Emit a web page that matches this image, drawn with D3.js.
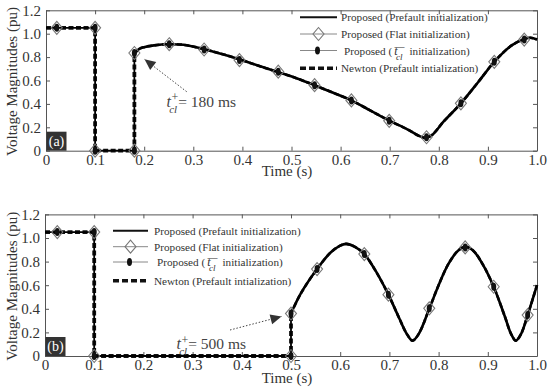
<!DOCTYPE html>
<html><head><meta charset="utf-8">
<script src="https://cdn.jsdelivr.net/npm/d3@7"></script>
<style>
html,body{margin:0;padding:0;background:#fff;}
svg, svg text{font-family:"Liberation Serif","Times New Roman",serif;}
</style></head>
<body><svg id="c" width="550" height="392"></svg>
<script>
// ---------- data ----------
const xTicks = [0,0.1,0.2,0.3,0.4,0.5,0.6,0.7,0.8,0.9,1.0];
const yTicks = [0,0.2,0.4,0.6,0.8,1.0,1.2];
const legendLabels = ["Proposed (Prefault initialization)","Proposed (Flat initialization)","Proposed (","Newton (Prefault intialization)"];

// Panel (a): fault at 0.1 s, cleared at 0.18 s
const stepA = [[0,1.05],[0.1,1.05],[0.1,0],[0.18,0],[0.18,0.83]];
const curveA = [[0.18,0.83],[0.19,0.87],[0.20,0.885],[0.22,0.90],[0.25,0.91],[0.28,0.905],[0.32,0.87],[0.36,0.825],
  [0.395,0.78],[0.43,0.73],[0.47,0.675],[0.51,0.62],[0.547,0.56],[0.585,0.495],[0.622,0.43],[0.66,0.345],
  [0.70,0.255],[0.735,0.185],[0.758,0.13],[0.772,0.11],[0.785,0.13],[0.81,0.25],[0.845,0.405],[0.88,0.585],
  [0.913,0.76],[0.95,0.905],[0.975,0.955],[0.987,0.965],[1.0,0.95]];
const markA_t = [0.022,0.1,0.1,0.18,0.18,0.251,0.322,0.394,0.473,0.547,0.622,0.699,0.775,0.845,0.913,0.974];
const markA_v = [1.05,1.05,0,0,0.835,0.91,0.865,0.775,0.675,0.56,0.43,0.255,0.115,0.405,0.76,0.95];

// Panel (b): fault at 0.1 s, cleared at 0.5 s
const stepB = [[0,1.05],[0.1,1.05],[0.1,0],[0.5,0],[0.5,0.36]];
const curveB = [[0.5,0.36],[0.52,0.53],[0.553,0.737],[0.58,0.875],[0.60,0.935],[0.612,0.95],[0.63,0.925],[0.649,0.864],
  [0.675,0.70],[0.698,0.52],[0.72,0.32],[0.735,0.19],[0.747,0.13],[0.76,0.19],[0.781,0.40],[0.80,0.60],
  [0.82,0.78],[0.84,0.895],[0.855,0.925],[0.87,0.895],[0.89,0.775],[0.912,0.587],[0.935,0.33],[0.947,0.19],
  [0.957,0.13],[0.968,0.19],[0.981,0.347],[1.0,0.60]];
const markB_t = [0.025,0.1,0.1,0.5,0.5,0.553,0.649,0.698,0.781,0.854,0.912,0.981];
const markB_v = [1.05,1.05,0,0,0.36,0.737,0.864,0.52,0.404,0.92,0.587,0.347];

// ---------- drawing ----------
const svg = d3.select("#c");
const AX = "#555", TXT = "#333";

function diamond(g, x, y){
  g.append("path").attr("d",`M${x},${y-6.5}L${x+5.5},${y}L${x},${y+6.5}L${x-5.5},${y}Z`)
   .attr("fill","none").attr("stroke","#777").attr("stroke-width",1.1);
}
function dot(g, x, y){
  g.append("ellipse").attr("cx",x).attr("cy",y).attr("rx",2.5).attr("ry",4).attr("fill","#111");
}

function panel(cfg){
  const x = d3.scaleLinear().domain([0,1]).range([cfg.x0,cfg.x1]);
  const y = d3.scaleLinear().domain([0,1.2]).range([cfg.y0,cfg.y1]);
  const g = svg.append("g");

  // axes
  const fmt = d => d===0 ? "0" : d3.format(".1f")(d);
  const bx = g.append("g").attr("transform",`translate(0,${cfg.y0})`)
    .call(d3.axisBottom(x).tickValues(xTicks).tickFormat(fmt).tickSizeInner(-4).tickSizeOuter(0).tickPadding(5));
  const tx = g.append("g").attr("transform",`translate(0,${cfg.y1})`)
    .call(d3.axisTop(x).tickValues(xTicks).tickFormat("").tickSizeInner(-4).tickSizeOuter(0));
  const ly = g.append("g").attr("transform",`translate(${cfg.x0},0)`)
    .call(d3.axisLeft(y).tickValues(yTicks).tickFormat(fmt).tickSizeInner(-4).tickSizeOuter(0).tickPadding(5));
  const ry = g.append("g").attr("transform",`translate(${cfg.x1},0)`)
    .call(d3.axisRight(y).tickValues(yTicks).tickFormat("").tickSizeInner(-4).tickSizeOuter(0));
  [bx,tx,ly,ry].forEach(a=>{
    a.attr("font-family",null).attr("font-size",null);
    a.selectAll("path,line").attr("stroke",AX);
    a.selectAll("text").attr("fill",TXT).style("font-size","15px").style("font-family","'Liberation Serif','Times New Roman',serif");
  });
  bx.selectAll(".tick text").attr("dy","0.6em");

  // axis titles
  g.append("text").attr("x",287).attr("y",cfg.xlabY).attr("text-anchor","middle")
    .style("font-size","15px").attr("fill",TXT).text("Time (s)");
  g.append("text").attr("transform",`translate(17,${(cfg.y0+cfg.y1)/2+1}) rotate(-90)`).attr("text-anchor","middle")
    .style("font-size","15px").attr("fill",TXT).text("Voltage Magnitudes (pu)");

  // lines: Newton (dashed) underneath, Proposed (solid) on top
  const lin = d3.line().x(d=>x(d[0])).y(d=>y(d[1]));
  const smooth = d3.line().x(d=>x(d[0])).y(d=>y(d[1])).curve(d3.curveCatmullRom.alpha(0.5));
  g.append("path").attr("d",lin(cfg.step)).attr("fill","none").attr("stroke","#111")
    .attr("stroke-width",3.8).attr("stroke-dasharray","5,2.5");
  g.append("path").attr("d",smooth(cfg.curve)).attr("fill","none").attr("stroke","#111")
    .attr("stroke-width",2.6).attr("stroke-dasharray","5,2.5");
  g.append("path").attr("d",lin(cfg.step)).attr("fill","none").attr("stroke","#000")
    .attr("stroke-width",1.8).attr("stroke-linejoin","round");
  g.append("path").attr("d",smooth(cfg.curve)).attr("fill","none").attr("stroke","#000")
    .attr("stroke-width",2.6).attr("stroke-linejoin","round");
  // markers
  cfg.mt.forEach((t,i)=>{ dot(g,x(t),y(cfg.mv[i])); diamond(g,x(t),y(cfg.mv[i])); });

  // panel tag
  g.append("rect").attr("x",cfg.x0+0.5).attr("y",cfg.y0-19).attr("width",20).attr("height",19).attr("fill","#333");
  g.append("text").attr("x",cfg.x0+10.5).attr("y",cfg.y0-5).attr("text-anchor","middle")
    .style("font-size","14px").attr("fill","#fff").text(cfg.tag);

  // legend
  const L = cfg.leg;
  const lg = g.append("g").attr("fill",TXT).style("font-size","11.2px");
  L.rows.forEach((ry0,i)=>{
    if(i===0){
      lg.append("line").attr("x1",L.lx0).attr("x2",L.lx1).attr("y1",ry0).attr("y2",ry0).attr("stroke","#111").attr("stroke-width",2);
    } else if(i===1){
      lg.append("line").attr("x1",L.lx0).attr("x2",L.lx1).attr("y1",ry0).attr("y2",ry0).attr("stroke","#888").attr("stroke-width",1);
      diamond(lg,(L.lx0+L.lx1)/2,ry0);
    } else if(i===2){
      lg.append("line").attr("x1",L.lx0).attr("x2",L.lx1).attr("y1",ry0).attr("y2",ry0).attr("stroke","#888").attr("stroke-width",1);
      dot(lg,(L.lx0+L.lx1)/2-1,ry0);
    } else {
      lg.append("line").attr("x1",L.lx0).attr("x2",L.lx1).attr("y1",ry0).attr("y2",ry0).attr("stroke","#111")
        .attr("stroke-width",3.4).attr("stroke-dasharray","6,3");
    }
    const tx0 = L.tx + (i===2?3:0);
    const t = lg.append("text").attr("x",tx0).attr("y",ry0+4);
    t.append("tspan").text(legendLabels[i]);
    if(i===2){
      t.append("tspan").attr("dx",2).attr("font-style","italic").style("font-size","12px").text("t");
      t.append("tspan").attr("dx",-1.5).attr("dy",5).attr("font-style","italic").style("font-size","9px").text("cl");
      t.append("tspan").attr("dx",-8).attr("dy",-10).style("font-size","10px").text("\u2014");
      t.append("tspan").attr("dx",5).attr("dy",5).text("initialization)");
    }
  });

  // annotation
  const A = cfg.ann;
  g.append("line").attr("x1",A.fx).attr("y1",A.fy).attr("x2",A.tx).attr("y2",A.ty)
    .attr("stroke","#444").attr("stroke-width",1).attr("stroke-dasharray","1.5,1.8");
  const ang = Math.atan2(A.ty-A.fy, A.tx-A.fx);
  const len = 11, hw = 5;
  const bxp = A.tx - len*Math.cos(ang), byp = A.ty - len*Math.sin(ang);
  g.append("path").attr("d",`M${A.tx},${A.ty}L${bxp - hw*Math.sin(ang)},${byp + hw*Math.cos(ang)}L${bxp + hw*Math.sin(ang)},${byp - hw*Math.cos(ang)}Z`)
    .attr("fill","#333");
  const at = g.append("text").attr("fill","#444").attr("x",A.lx).attr("y",A.ly);
  at.append("tspan").style("font-size","16px").attr("font-style","italic").text("t");
  at.append("tspan").attr("dx",0.5).attr("dy",-5.5).style("font-size","12px").text("+");
  at.append("tspan").attr("dx",-9).attr("dy",11.5).style("font-size","11px").attr("font-style","italic").text("cl");
  at.append("tspan").attr("dx",1).attr("dy",-6).style("font-size","15.5px").text(A.text);
}

panel({x0:46,x1:537,y0:150.7,y1:10.3,xlabY:176,tag:"(a)",step:stepA,curve:curveA,mt:markA_t,mv:markA_v,
  leg:{lx0:300,lx1:337,tx:341,rows:[17.3,34,50.5,68.3]},
  ann:{fx:186.7,fy:91.7,tx:144.5,ty:59.3,lx:166.5,ly:106.7,text:"= 180 ms"}});
panel({x0:45,x1:537,y0:356,y1:214.4,xlabY:383,tag:"(b)",step:stepB,curve:curveB,mt:markB_t,mv:markB_v,
  leg:{lx0:113,lx1:148,tx:154,rows:[230.7,246.7,262,280.7]},
  ann:{fx:230,fy:330,tx:281.5,ty:316.5,lx:176.5,ly:349.3,text:"= 500 ms"}});
</script></body></html>
